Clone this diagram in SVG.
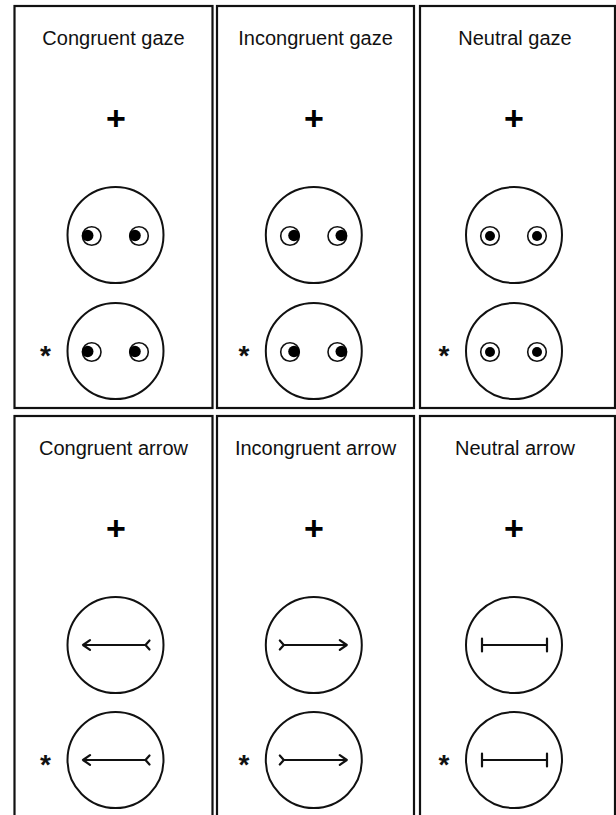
<svg xmlns="http://www.w3.org/2000/svg" xmlns:xlink="http://www.w3.org/1999/xlink" width="616" height="815" viewBox="0 0 616 815">
<style>
.panel{fill:#fff;stroke:#111;stroke-width:2.2}
.title{font-family:"Liberation Sans",Arial,sans-serif;font-size:20px;fill:#111;text-anchor:middle}
.plus{font-family:"Liberation Sans",Arial,sans-serif;font-size:34px;font-weight:bold;fill:#000;text-anchor:middle}
.star{font-family:"Liberation Sans",Arial,sans-serif;font-size:28px;font-weight:bold;fill:#111;text-anchor:middle}
.face{fill:none;stroke:#111;stroke-width:2}
.ring{fill:#fff;stroke:#111;stroke-width:1.6}
.pupil{fill:#000}
.arr{fill:none;stroke:#111;stroke-width:2.2;stroke-linecap:round;stroke-linejoin:round}
</style>
<defs>
<g id="eyeL"><circle class="ring" r="9.3"/><circle class="pupil" cx="-4" cy="-0.5" r="5.8"/></g>
<g id="eyeR"><circle class="ring" r="9.3"/><circle class="pupil" cx="4" cy="-0.5" r="5.8"/></g>
<g id="eyeN"><circle class="ring" r="9.3"/><circle class="pupil" r="5"/></g>
<g id="faceL"><circle class="face" r="48"/><use xlink:href="#eyeL" x="-23.8" y="1"/><use xlink:href="#eyeL" x="23.5" y="1"/></g>
<g id="faceR"><circle class="face" r="48"/><use xlink:href="#eyeR" x="-23.8" y="1"/><use xlink:href="#eyeR" x="23.5" y="1"/></g>
<g id="faceN"><circle class="face" r="48"/><use xlink:href="#eyeN" x="-24" y="1"/><use xlink:href="#eyeN" x="23" y="1"/></g>
<g id="arrL"><circle class="face" r="48"/><path class="arr" d="M-32.5 0H30M-25.5 -4.8L-32.5 0L-25.5 4.8M34 -4.5L30 0L34 4.5"/></g>
<g id="arrR"><circle class="face" r="48"/><path class="arr" d="M-30 0H33M26 -4.8L33 0L26 4.8M-34 -4.5L-30 0L-34 4.5"/></g>
<g id="arrN"><circle class="face" r="48"/><path class="arr" d="M-32 0H33M-32 -6.5V6.5M33 -6.5V6.5"/></g>
</defs>

<g id="congruent-gaze">
<rect class="panel" x="14.5" y="6" width="198" height="402"/>
<text class="title" x="113.5" y="45">Congruent gaze</text>
<text class="plus" x="116" y="129.5">+</text>
<use xlink:href="#faceL" x="115.5" y="235"/>
<use xlink:href="#faceL" x="115.5" y="351"/>
<text class="star" x="45.5" y="365">*</text>
</g>

<g id="incongruent-gaze">
<rect class="panel" x="217" y="6" width="197" height="402"/>
<text class="title" x="315.5" y="45">Incongruent gaze</text>
<text class="plus" x="314" y="129.5">+</text>
<use xlink:href="#faceR" x="313.8" y="235"/>
<use xlink:href="#faceR" x="313.8" y="351"/>
<text class="star" x="244" y="365">*</text>
</g>

<g id="neutral-gaze">
<rect class="panel" x="420" y="6" width="195" height="402"/>
<text class="title" x="515" y="45">Neutral gaze</text>
<text class="plus" x="514" y="129.5">+</text>
<use xlink:href="#faceN" x="514" y="235"/>
<use xlink:href="#faceN" x="514" y="351"/>
<text class="star" x="444" y="365">*</text>
</g>

<g id="congruent-arrow">
<rect class="panel" x="14.5" y="416" width="198" height="402"/>
<text class="title" x="113.5" y="455">Congruent arrow</text>
<text class="plus" x="116" y="539.5">+</text>
<use xlink:href="#arrL" x="115.5" y="645"/>
<use xlink:href="#arrL" x="115.5" y="760"/>
<text class="star" x="45.5" y="774">*</text>
</g>

<g id="incongruent-arrow">
<rect class="panel" x="217" y="416" width="197" height="402"/>
<text class="title" x="315.5" y="455">Incongruent arrow</text>
<text class="plus" x="314" y="539.5">+</text>
<use xlink:href="#arrR" x="313.8" y="645"/>
<use xlink:href="#arrR" x="313.8" y="760"/>
<text class="star" x="244" y="774">*</text>
</g>

<g id="neutral-arrow">
<rect class="panel" x="420" y="416" width="195" height="402"/>
<text class="title" x="515" y="455">Neutral arrow</text>
<text class="plus" x="514" y="539.5">+</text>
<use xlink:href="#arrN" x="514" y="645"/>
<use xlink:href="#arrN" x="514" y="760"/>
<text class="star" x="444" y="774">*</text>
</g>

<g id="connectors"/>
</svg>
